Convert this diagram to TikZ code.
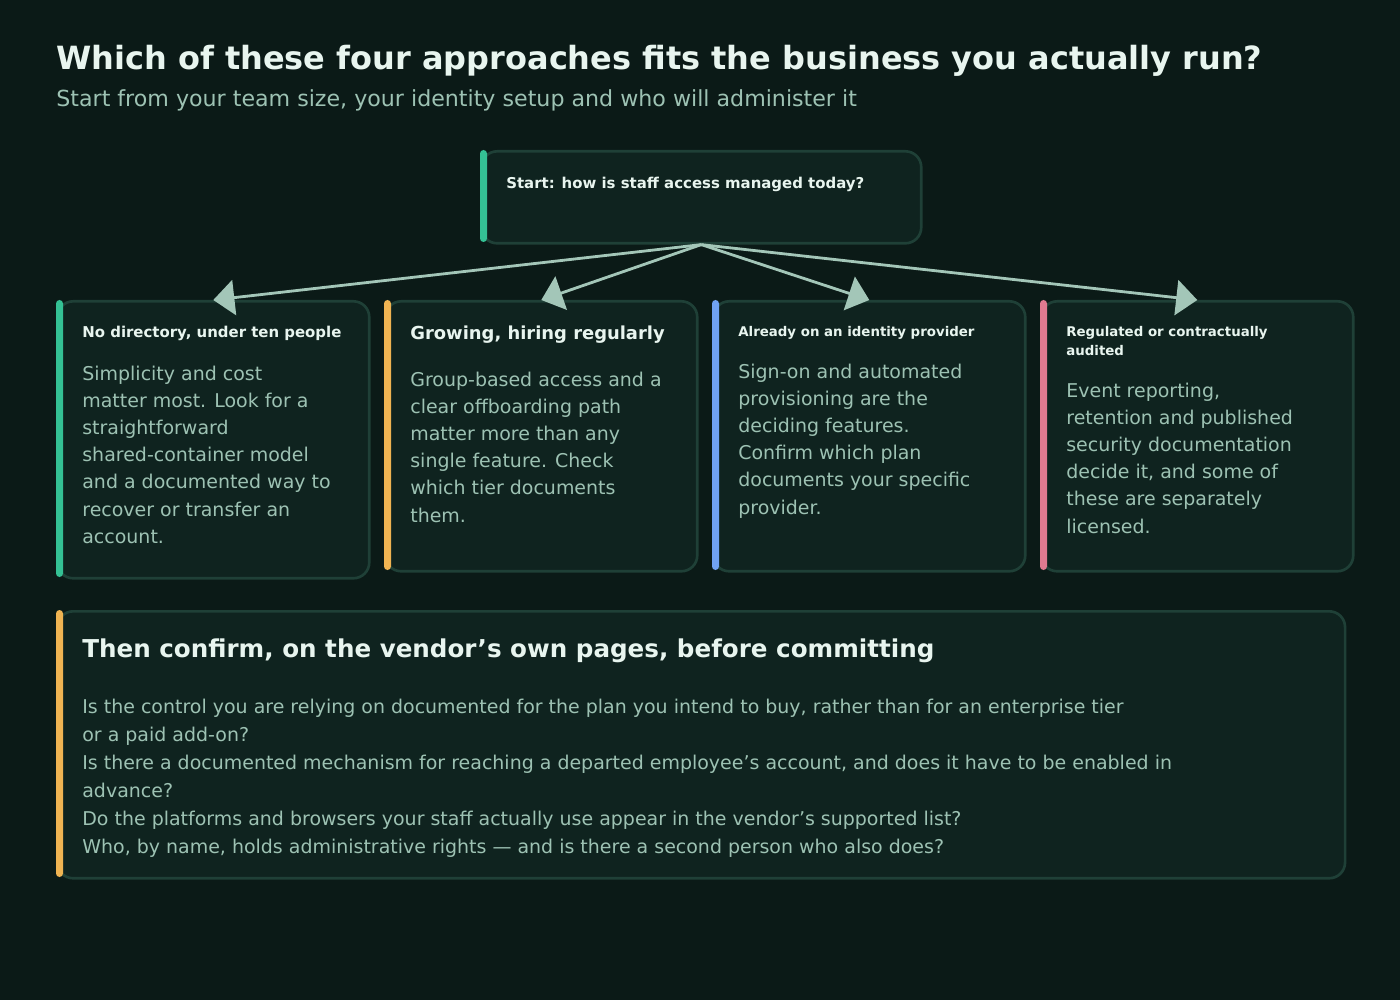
\documentclass[tikz,border=0pt]{standalone}
\usepackage{fontspec}
\setmainfont{DejaVu Sans}
\usetikzlibrary{positioning, arrows.meta}
\definecolor{bgdark}{HTML}{0B1A17}
\definecolor{cardfill}{HTML}{0F231F}
\definecolor{cardline}{HTML}{1F4037}
\definecolor{titletext}{HTML}{E8F5EF}
\definecolor{bodytext}{HTML}{9DC2B3}
\definecolor{flowline}{HTML}{A3C6B8}
\definecolor{accgreen}{HTML}{34C194}
\definecolor{accorange}{HTML}{F0B452}
\definecolor{accblue}{HTML}{70A2F2}
\definecolor{accpink}{HTML}{E07A90}
\tikzset{
  card/.style={draw=cardline, fill=cardfill, line width=1.5pt, rounded corners=9pt, anchor=north west, inner sep=0pt},
  head/.style={anchor=north west, inner sep=0pt, text=titletext, font=\bfseries\fontsize{8.5}{11}\selectfont, align=left},
  body/.style={anchor=north west, inner sep=0pt, text=bodytext, font=\fontsize{10.8}{15.4}\selectfont, align=left},
  flow/.style={draw=flowline, line width=1.6pt, -{Triangle[width=20pt,length=12pt]}},
}
\begin{document}
\begin{tikzpicture}[x=0.02cm, y=-0.02cm]
\fill[bgdark] (0,0) rectangle (1400,1000);
\useasboundingbox (0,0) rectangle (1400,1000);

% title
\node[anchor=base west, inner sep=0pt, text=titletext, font=\bfseries\fontsize{18.2}{22}\selectfont] (title) at (56,70) {Which of these four approaches fits the business you actually run?};
\node[anchor=base west, inner sep=0pt, text=bodytext, font=\fontsize{12.6}{16}\selectfont] (subtitle) at (56,107) {Start from your team size, your identity setup and who will administer it};

% start box
\node[card, minimum width=8.8cm, minimum height=1.84cm] (start) at (480,150) {};
\fill[accgreen, rounded corners=2pt] (480,150) rectangle (487,242);
\node[head] at (506,177) {Start: how is staff access managed today?};

% cards
\node[card, minimum width=6.24cm, minimum height=5.54cm] (c1) at (56,300) {};
\node[card, minimum width=6.24cm, minimum height=5.4cm] (c2) at (384,300) {};
\node[card, minimum width=6.24cm, minimum height=5.4cm] (c3) at (712,300) {};
\node[card, minimum width=6.24cm, minimum height=5.4cm] (c4) at (1040,300) {};
\fill[accgreen, rounded corners=2pt] (56,300) rectangle (63,577);
\fill[accorange, rounded corners=2pt] (384,300) rectangle (391,570);
\fill[accblue, rounded corners=2pt] (712,300) rectangle (719,570);
\fill[accpink, rounded corners=2pt] (1040,300) rectangle (1047,570);

\node[head] at (82,326) {No directory, under ten people};
\node[body] at (82,366) {Simplicity and cost\\matter most. Look for a\\straightforward\\shared-container model\\and a documented way to\\recover or transfer an\\account.};
\node[head, font=\bfseries\fontsize{10.2}{13}\selectfont] at (410,326) {Growing, hiring regularly};
\node[body] at (410,372) {Group-based access and a\\clear offboarding path\\matter more than any\\single feature. Check\\which tier documents\\them.};
\node[head, font=\bfseries\fontsize{7.6}{10.8}\selectfont] at (738,326) {Already on an identity provider};
\node[body] at (738,364) {Sign-on and automated\\provisioning are the\\deciding features.\\Confirm which plan\\documents your specific\\provider.};
\node[head, font=\bfseries\fontsize{7.6}{10.8}\selectfont] at (1066,326) {Regulated or contractually\\audited};
\node[body] at (1066,383) {Event reporting,\\retention and published\\security documentation\\decide it, and some of\\these are separately\\licensed.};

% connectors
\draw[flow] (start.south) -- (c1.north);
\draw[flow] (start.south) -- (c2.north);
\draw[flow] (start.south) -- (c3.north);
\draw[flow] (start.south) -- (c4.north);

% bottom box
\node[card, minimum width=25.76cm, minimum height=5.34cm] (checks) at (56,610) {};
\fill[accorange, rounded corners=2pt] (56,610) rectangle (63,877);
\node[head, font=\bfseries\fontsize{14}{17}\selectfont] at (82,638) {Then confirm, on the vendor's own pages, before committing};
\node[body, font=\fontsize{10.8}{15.9}\selectfont] at (82,699) {Is the control you are relying on documented for the plan you intend to buy, rather than for an enterprise tier\\or a paid add-on?\\Is there a documented mechanism for reaching a departed employee's account, and does it have to be enabled in\\advance?\\Do the platforms and browsers your staff actually use appear in the vendor's supported list?\\Who, by name, holds administrative rights — and is there a second person who also does?};
\end{tikzpicture}
\end{document}
